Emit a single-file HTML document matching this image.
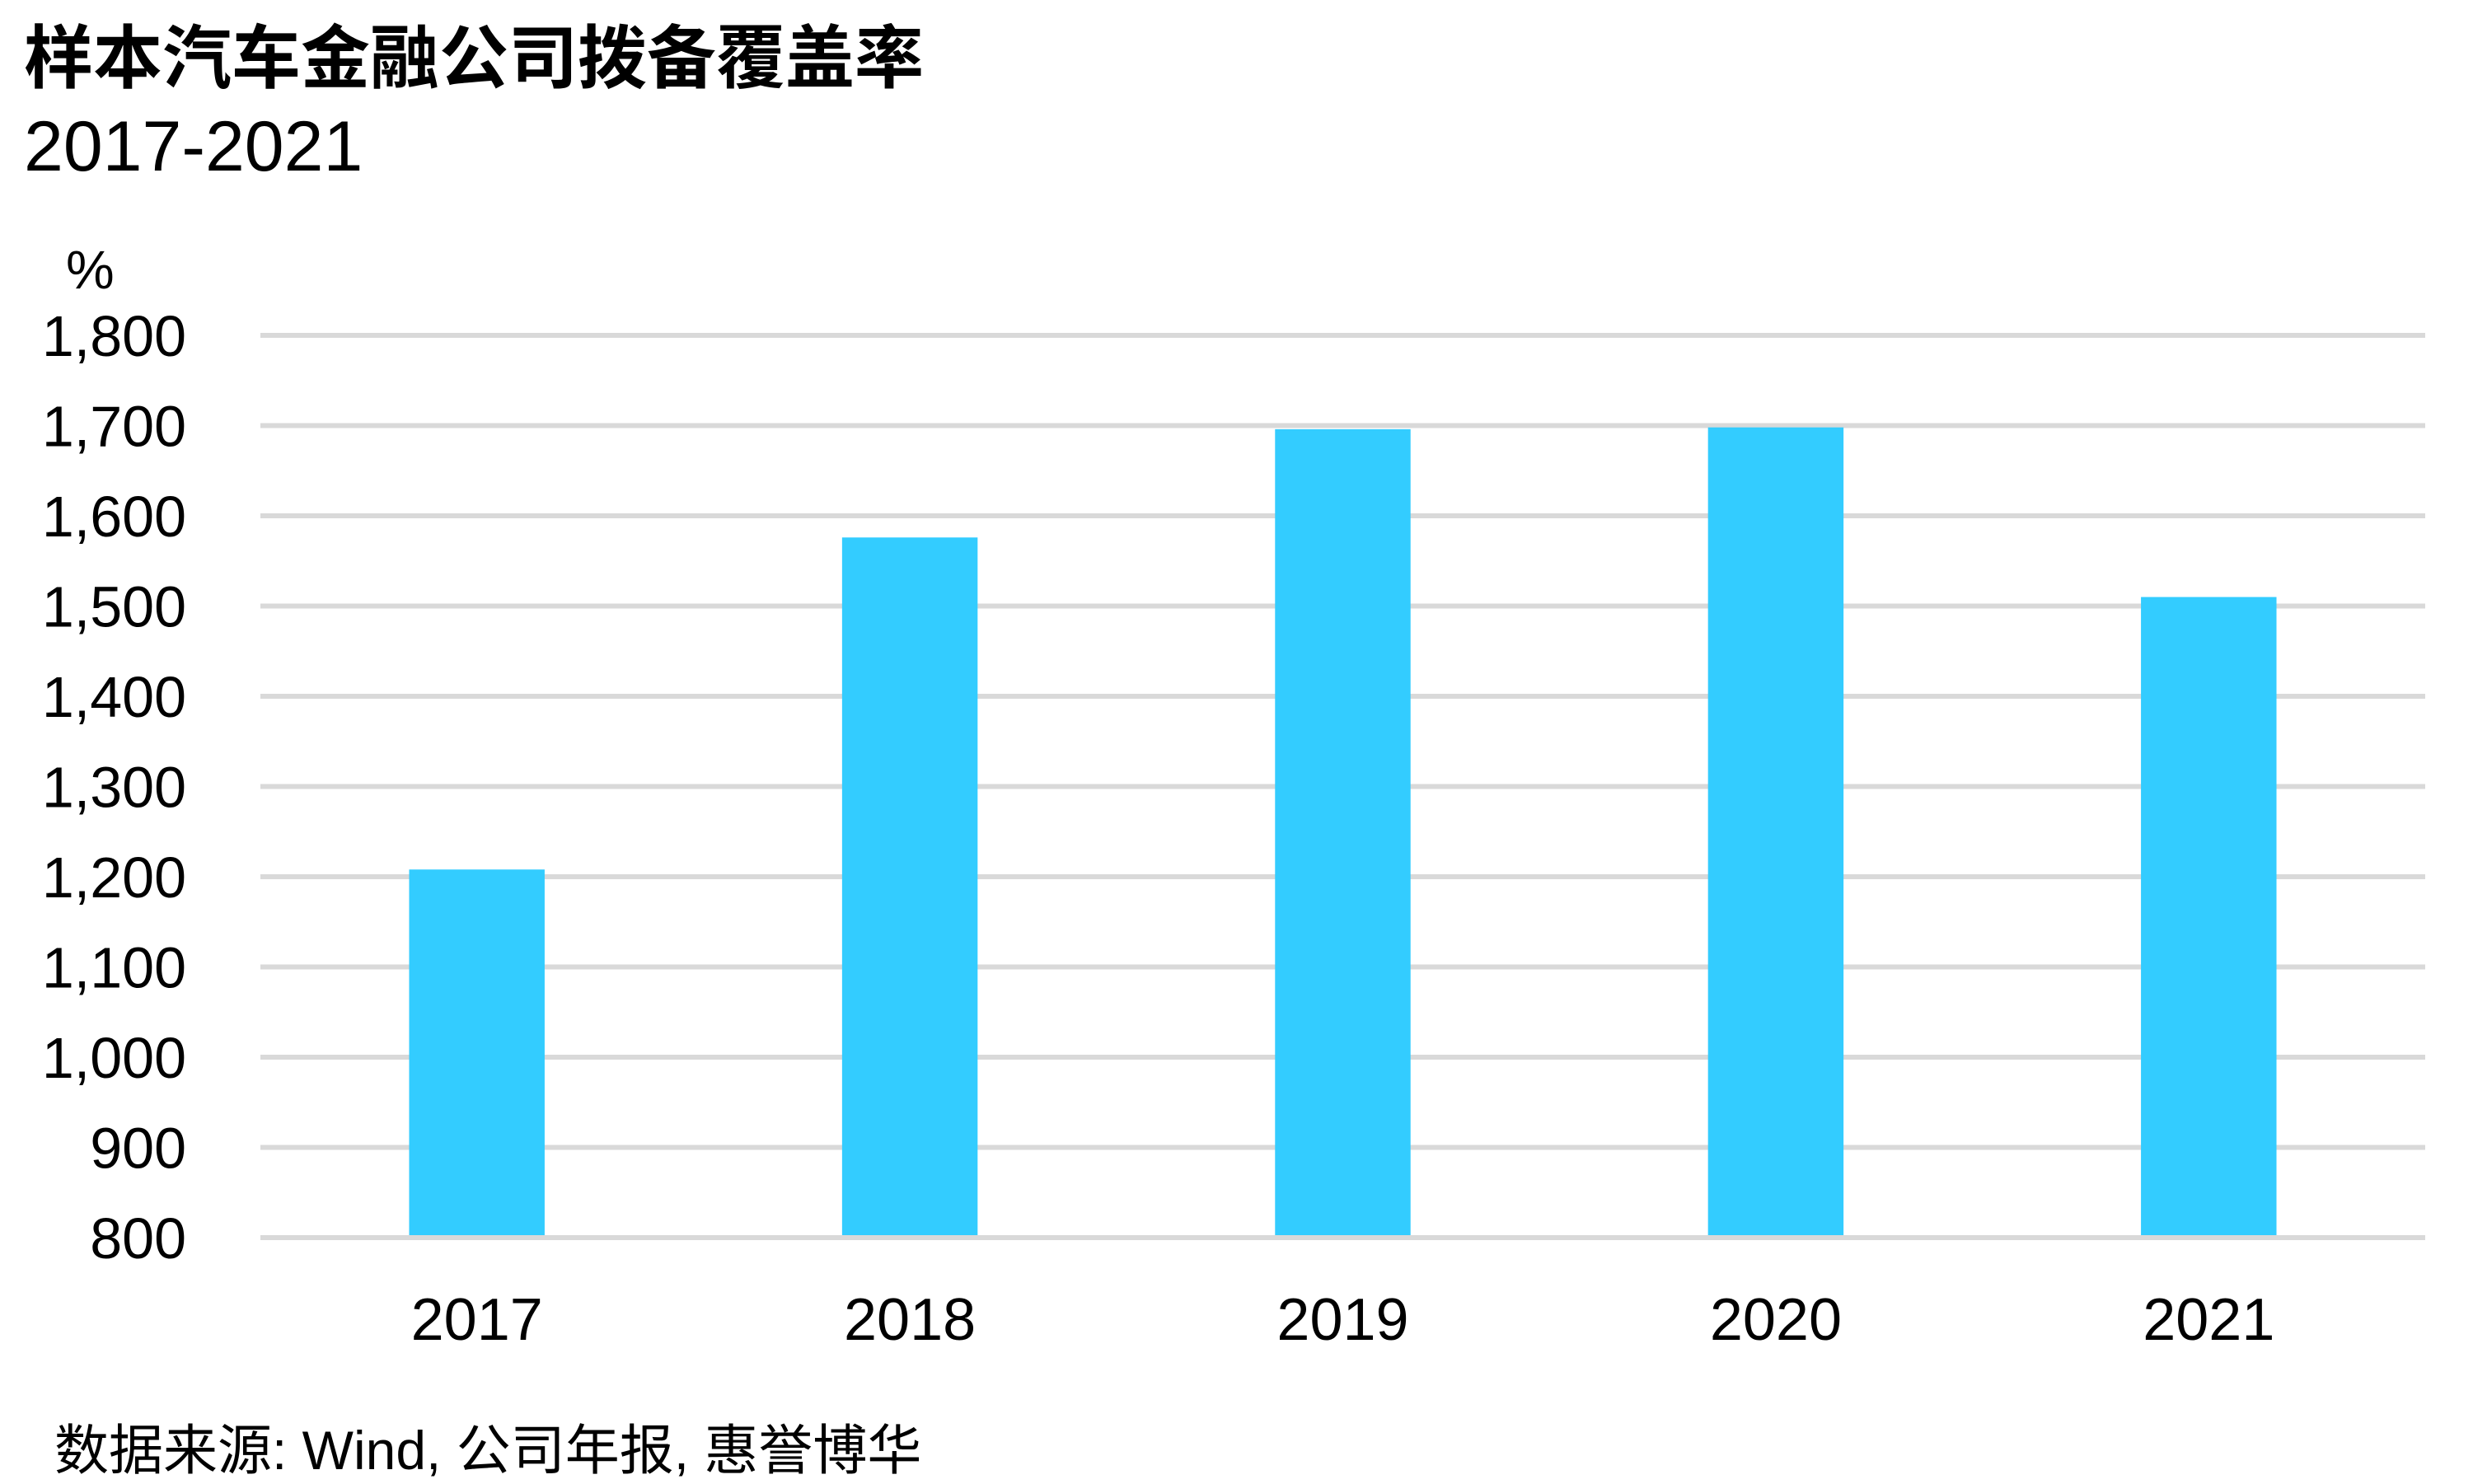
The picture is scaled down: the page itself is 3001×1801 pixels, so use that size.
<!DOCTYPE html>
<html><head><meta charset="utf-8"><style>
html,body{margin:0;padding:0;background:#fff;}
svg{display:block;}
text{font-family:"Liberation Sans","Noto Sans CJK SC",sans-serif;fill:#000;}
</style></head><body>
<svg id="chart" width="3001" height="1801" viewBox="0 0 3001 1801">
<text x="29" y="100" font-size="84" font-weight="bold">样本汽车金融公司拨备覆盖率</text>
<text x="29" y="207" font-size="86">2017-2021</text>
<text x="80" y="350" font-size="66">%</text>
<g id="grid"></g><g id="bars"></g><g id="ylabels"></g><g id="xlabels"></g>
<text x="66" y="1783" font-size="66">数据来源: Wind, 公司年报, 惠誉博华</text>
</svg>
<script>
const categories = ["2017","2018","2019","2020","2021"];
const values = [1208, 1576, 1696, 1698, 1510];
const yTicks = [800,900,1000,1100,1200,1300,1400,1500,1600,1700,1800];
const yTickLabels = ["800","900","1,000","1,100","1,200","1,300","1,400","1,500","1,600","1,700","1,800"];

const NS="http://www.w3.org/2000/svg";
const plotLeft=316,plotRight=2943,yMin=800,yMax=1800,plotTop=407,plotBottom=1502;
function yScale(v){return plotBottom-(v-yMin)/(yMax-yMin)*(plotBottom-plotTop);}
const step=(plotRight-plotLeft)/categories.length;
function xCenter(i){return plotLeft+step*(i+0.5);}
const bw=step*0.313;
function mk(tag,attrs,parent){const e=document.createElementNS(NS,tag);for(const k in attrs)e.setAttribute(k,attrs[k]);parent.appendChild(e);return e;}
const grid=document.getElementById('grid'),bars=document.getElementById('bars'),yl=document.getElementById('ylabels'),xl=document.getElementById('xlabels');
yTicks.forEach(function(t,i){
  const l=mk('line',{x1:plotLeft,x2:plotRight,y1:yScale(t),y2:yScale(t),stroke:'#d9d9d9','stroke-width':6},grid);
  
  
  const tx=mk('text',{x:226,y:yScale(t)+25,'font-size':70,'text-anchor':'end'},yl);
  tx.textContent=yTickLabels[i];
  
  
});
categories.forEach(function(c,i){
  const r=mk('rect',{x:xCenter(i)-bw/2,y:yScale(values[i]),width:bw,height:plotBottom-3-yScale(values[i]),fill:'#33ccff'},bars);
  
  
  const tx=mk('text',{x:xCenter(i),y:1626,'font-size':72,'text-anchor':'middle'},xl);
  tx.textContent=c;
  
  
});
</script>
</body></html>
